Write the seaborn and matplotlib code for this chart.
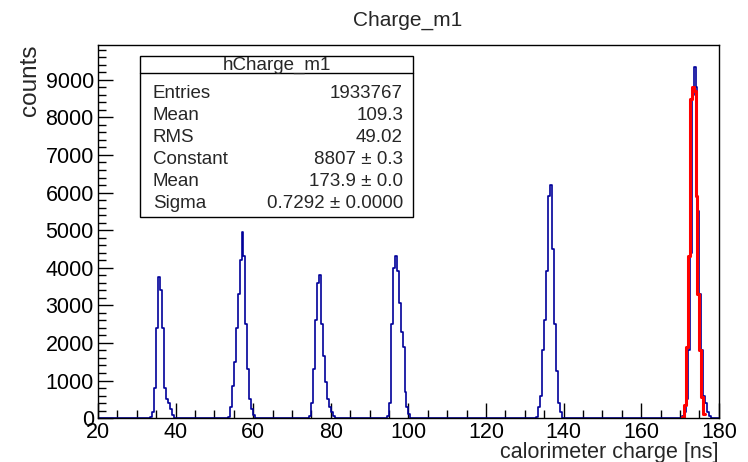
import matplotlib
matplotlib.use('Agg')
import matplotlib.pyplot as plt
from matplotlib.ticker import MultipleLocator
import pandas as pd
import seaborn as sns

# histogram contents, 0.5 ns bins
bin_width = 0.5
peak_starts = [33.5, 53.5, 74.5, 94.5, 133.0, 170.5]
peak_counts = [
    [30, 150, 800, 2400, 3750, 3400, 2400, 800, 500, 400, 250, 80],
    [20, 300, 850, 1500, 2400, 3300, 4200, 4950, 4300, 2500, 1300, 500, 250, 80],
    [50, 400, 1300, 2600, 3600, 3800, 2500, 1650, 950, 500, 300, 150, 50],
    [50, 400, 2500, 4000, 4300, 3900, 3050, 2300, 1900, 700, 300, 100],
    [30, 300, 600, 1800, 2600, 3900, 5900, 6200, 4500, 2500, 1250, 400, 150],
    [50, 150, 500, 1800, 4400, 8600, 9350, 8800, 5500, 3300, 1800, 600, 400, 150, 50],
]

# gaussian fit drawn in red over the last peak
fit_start = 170.5
fit_counts = [40, 350, 1900, 4300, 8500, 8807, 8700, 5900, 3300, 1800, 550, 100]

stats_rows = [
    ("Entries", "1933767"),
    ("Mean", "109.3"),
    ("RMS", "49.02"),
    ("Constant", "8807 \u00b1 0.3"),
    ("Mean", "173.9 \u00b1 0.0"),
    ("Sigma", "0.7292 \u00b1 0.0000"),
]

rows = []
for start, counts in zip(peak_starts, peak_counts):
    for i, c in enumerate(counts):
        rows.append((start + bin_width * (i + 0.5), c))
hist = pd.DataFrame(rows, columns=["charge", "n"])
fit = pd.DataFrame({
    "charge": [fit_start + bin_width * (i + 0.5) for i in range(len(fit_counts))],
    "n": fit_counts,
})

sns.set_style("ticks")
plt.rcParams['font.family'] = ['Liberation Sans', 'DejaVu Sans']

fig = plt.figure(figsize=(7.48, 4.62), dpi=100)
ax = fig.add_axes([0.131, 0.095, 0.830, 0.808])

sns.histplot(data=hist, x="charge", weights="n", binwidth=bin_width, binrange=(20, 180),
             element="step", fill=False, color="#000099", linewidth=1.2, ax=ax)
sns.histplot(data=fit, x="charge", weights="n", binwidth=bin_width,
             binrange=(fit_start, fit_start + bin_width * len(fit_counts)),
             element="step", fill=False, color="#ff0000", linewidth=2.2, ax=ax)

ax.set_xlim(20, 180)
ax.set_ylim(0, 9930)
ax.xaxis.set_major_locator(MultipleLocator(20))
ax.xaxis.set_minor_locator(MultipleLocator(5))
ax.yaxis.set_major_locator(MultipleLocator(1000))
ax.yaxis.set_minor_locator(MultipleLocator(200))
ax.tick_params(which='both', direction='in', top=False, right=False,
               width=1, labelsize=15.5, colors='black')
ax.tick_params(which='major', length=11)
ax.tick_params(which='minor', length=5.5)
ax.tick_params(axis='x', pad=3)
ax.tick_params(axis='y', pad=3)
for s in ax.spines.values():
    s.set_visible(True)
    s.set_linewidth(1)
    s.set_color('black')

ax.set_xlabel("calorimeter charge [ns]", loc='right', fontsize=15.5, labelpad=-1)
ax.set_ylabel("counts", loc='top', fontsize=17.5, labelpad=3)
fig.text(0.545, 0.945, "Charge_m1", ha='center', va='baseline', fontsize=15)

# stats box
bx0, bx1 = 140, 413
by0, by1 = 56, 217
W, H = 748, 462
box = plt.Rectangle((bx0 / W, 1 - by1 / H), (bx1 - bx0) / W, (by1 - by0) / H,
                    transform=fig.transFigure, facecolor='white',
                    edgecolor='black', linewidth=1, zorder=5)
fig.add_artist(box)
fig.add_artist(plt.Line2D([bx0 / W, bx1 / W], [1 - 73 / H, 1 - 73 / H],
                          transform=fig.transFigure, color='black', linewidth=1, zorder=6))
fig.text((bx0 + bx1) / 2 / W, 1 - 65 / H, "hCharge_m1", ha='center', va='center',
         fontsize=13.5, zorder=7)
for i, (name, val) in enumerate(stats_rows):
    y = 1 - (94 + 22 * i) / H
    fig.text(153 / W, y, name, ha='left', va='center', fontsize=13.5, zorder=7)
    fig.text(403 / W, y, val, ha='right', va='center', fontsize=13.5, zorder=7)

fig.savefig("out.png", dpi=100)
